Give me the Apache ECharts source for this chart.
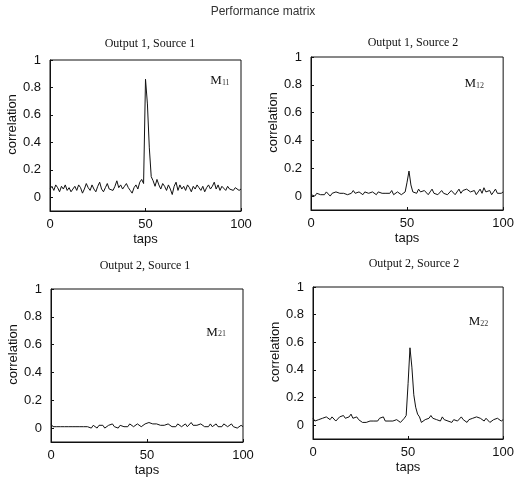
<!DOCTYPE html>
<html>
<head>
<meta charset="utf-8">
<script src="https://cdn.jsdelivr.net/npm/echarts@6/dist/echarts.min.js"></script>
<style>html,body{margin:0;padding:0;background:#fff;}#c{width:517px;height:481px;}</style>
</head>
<body>
<div id="c"></div>
<script>
var taps = [];
for (var i = 0; i <= 100; i++) taps.push(i);

var xTicks = [0, 50, 100];
var yTicks = [0, 0.2, 0.4, 0.6, 0.8, 1];

var subTitles = ['Output 1, Source 1', 'Output 1, Source 2', 'Output 2, Source 1', 'Output 2, Source 2'];
var tags = ['11', '12', '21', '22'];
var tagX = [89, 85, 86, 87];
var tagY = [0.85, 0.81, 0.69, 0.75];

var m11 = [0.06,0.08,0.05,0.09,0.07,0.04,0.08,0.06,0.09,0.05,0.07,0.04,0.06,0.08,0.05,0.09,0.07,0.03,0.06,0.10,
0.07,0.05,0.09,0.06,0.04,0.08,0.11,0.06,0.04,0.07,0.10,0.06,0.05,0.05,0.08,0.12,0.07,0.09,0.06,0.08,
0.10,0.07,0.05,0.03,0.07,0.09,0.06,0.11,0.13,0.10,0.86,0.68,0.36,0.15,0.12,0.08,0.13,0.09,0.06,0.10,
0.08,0.05,0.09,0.06,0.02,0.08,0.11,0.05,0.09,0.06,0.08,0.05,0.09,0.07,0.04,0.08,0.06,0.09,0.07,0.05,
0.08,0.04,0.07,0.09,0.06,0.08,0.11,0.06,0.09,0.05,0.08,0.07,0.05,0.08,0.06,0.07,0.05,0.07,0.06,0.05,0.06];

var m12 = [0.01,0.02,0.00,0.02,0.03,0.01,0.02,0.01,0.03,0.02,0.00,0.02,0.01,0.03,0.04,0.02,0.01,0.02,0.03,0.01,
0.00,0.02,0.04,0.02,0.01,0.03,0.02,0.01,0.03,0.04,0.02,0.01,0.03,0.02,0.01,0.03,0.04,0.02,0.01,0.02,
0.03,0.02,0.04,0.01,0.02,0.03,0.02,0.01,0.02,0.03,0.10,0.18,0.08,0.03,0.04,0.02,0.05,0.03,0.02,0.04,
0.03,0.01,0.03,0.05,0.02,0.03,0.01,0.02,0.04,0.02,0.03,0.01,0.02,0.04,0.03,0.01,0.03,0.05,0.02,0.04,
0.03,0.05,0.06,0.03,0.02,0.04,0.01,0.03,0.05,0.02,0.06,0.03,0.02,0.04,0.01,0.03,0.05,0.02,0.03,0.02,0.03];

var m21 = [0.03,0.01,0.00,0.01,0.02,0.01,0.00,0.01,0.02,0.01,0.00,0.01,0.00,0.01,0.02,0.01,0.00,0.01,0.02,0.01,
0.01,0.00,0.02,0.01,0.00,0.02,0.01,0.02,0.00,0.01,0.02,0.01,0.03,0.01,0.02,0.00,0.02,0.03,0.01,0.02,
0.01,0.03,0.02,0.01,0.02,0.03,0.02,0.01,0.02,0.03,0.02,0.04,0.05,0.03,0.02,0.03,0.04,0.02,0.01,0.02,
0.01,0.03,0.02,0.01,0.02,0.01,0.03,0.02,0.01,0.02,0.03,0.01,0.02,0.04,0.02,0.01,0.02,0.01,0.03,0.02,
0.01,0.02,0.01,0.03,0.01,0.02,0.03,0.01,0.02,0.01,0.03,0.02,0.01,0.02,0.03,0.01,0.02,0.00,0.01,0.02,0.01];

var m22 = [0.05,0.03,0.02,0.04,0.03,0.05,0.04,0.06,0.05,0.04,0.06,0.05,0.03,0.04,0.06,0.05,0.07,0.05,0.04,0.06,
0.08,0.05,0.04,0.06,0.04,0.03,0.02,0.03,0.02,0.01,0.03,0.02,0.03,0.04,0.03,0.05,0.04,0.06,0.03,0.02,
0.03,0.04,0.03,0.02,0.04,0.03,0.02,0.03,0.05,0.07,0.30,0.56,0.42,0.22,0.13,0.08,0.06,0.02,0.01,0.04,
0.03,0.05,0.07,0.05,0.06,0.04,0.05,0.03,0.06,0.04,0.05,0.03,0.04,0.02,0.04,0.05,0.03,0.04,0.06,0.04,
0.03,0.02,0.04,0.03,0.05,0.04,0.06,0.07,0.05,0.04,0.03,0.05,0.04,0.02,0.03,0.04,0.03,0.05,0.04,0.03,0.04];

var seriesValues = [m11, m12, m21, m22];

var grids = [
  {left: 50, top: 60, width: 191, height: 151},
  {left: 311, top: 57, width: 193, height: 153},
  {left: 51, top: 289, width: 192, height: 153},
  {left: 313, top: 287, width: 193, height: 152}
];
var titlePos = [[145, 33], [408, 32], [140, 255], [409, 253]];

var sans = "'Liberation Sans',Arial,sans-serif";
var serif = "'Liberation Serif','Times New Roman',serif";

var option = {
  backgroundColor: '#fff',
  animation: false,
  title: [{
    text: 'Performance matrix', left: 258, top: 1, textAlign: 'center',
    textStyle: {fontSize: 12, fontWeight: 'normal', color: '#333', fontFamily: sans}
  }].concat(subTitles.map(function (t, k) {
    return {
      text: t, left: titlePos[k][0], top: titlePos[k][1], textAlign: 'center',
      textStyle: {fontSize: 12, fontWeight: 'normal', color: '#111', fontFamily: serif}
    };
  })),
  grid: grids.map(function (g) {
    return {left: g.left, top: g.top, width: g.width, height: g.height, show: true,
      borderColor: '#111', borderWidth: 1, backgroundColor: '#fff', containLabel: false};
  }),
  xAxis: grids.map(function (g, k) {
    return {
      type: 'value', gridIndex: k, min: 0, max: 100, interval: 50,
      name: 'taps', nameLocation: 'middle', nameGap: 22,
      nameTextStyle: {fontSize: 13, color: '#111', fontFamily: sans},
      axisLine: {show: true, onZero: false, lineStyle: {color: '#111', width: 1}},
      axisTick: {show: true, inside: true, length: 3, lineStyle: {color: '#111'}},
      axisLabel: {fontSize: 13, color: '#111', margin: 7, fontFamily: sans},
      splitLine: {show: false}
    };
  }),
  yAxis: grids.map(function (g, k) {
    return {
      type: 'value', gridIndex: k, min: -0.1, max: 1,
      name: 'correlation', nameLocation: 'middle', nameGap: 26,
      nameTextStyle: {fontSize: 13, color: '#111', fontFamily: sans, padding: [0, 0, 0, 22]},
      axisLine: {show: true, onZero: false, lineStyle: {color: '#111', width: 1}},
      axisTick: {show: true, inside: true, length: 3, customValues: yTicks, lineStyle: {color: '#111'}},
      axisLabel: {fontSize: 13, color: '#111', margin: 9, fontFamily: sans, customValues: yTicks,
        formatter: function (v) { return String(Math.round(v * 10) / 10); }},
      splitLine: {show: false}
    };
  }),
  series: seriesValues.map(function (vals, k) {
    return {
      type: 'line', xAxisIndex: k, yAxisIndex: k, symbol: 'none', silent: true,
      data: taps.map(function (t, i) { return [t, vals[i]]; }),
      lineStyle: {color: '#111', width: 1},
      markPoint: {
        symbol: 'rect', symbolSize: 1, itemStyle: {color: 'rgba(0,0,0,0)'},
        label: {
          show: true, position: 'inside',
          formatter: '{m|M}{s|' + tags[k] + '}',
          rich: {
            m: {fontSize: 13, fontFamily: serif, color: '#111'},
            s: {fontSize: 8, fontFamily: serif, color: '#333', padding: [4, 0, 0, 0]}
          }
        },
        data: [{coord: [tagX[k], tagY[k]]}]
      }
    };
  })
};

var chart = echarts.init(document.getElementById('c'), null, {renderer: 'canvas'});
chart.setOption(option);
</script>
</body>
</html>
